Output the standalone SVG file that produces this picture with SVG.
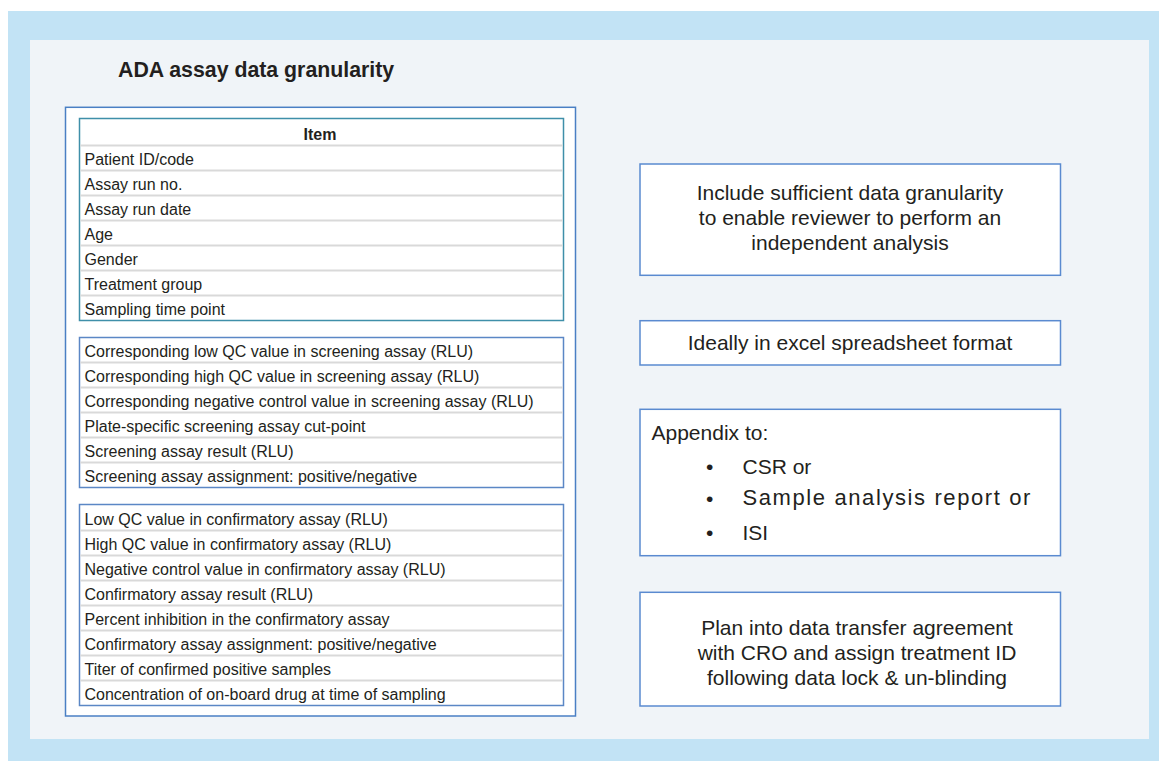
<svg xmlns="http://www.w3.org/2000/svg" width="1159" height="761" viewBox="0 0 1159 761">
<style>
text{font-family:"Liberation Sans",Arial,sans-serif;fill:#231f20}
.t{font-size:16px}
.b{font-size:21px}
.h{font-weight:bold}
.frame{fill:#fff;stroke:#4a7fc4;stroke-width:1.5}
.tbl{fill:#fff;stroke:#5b87c5;stroke-width:1.5}
.tbl1{fill:#fff;stroke:#3f8fa9;stroke-width:1.5}
.sep{stroke:#d9d9d9;stroke-width:2}
.box{fill:#fff;stroke:#5a8ad0;stroke-width:1.5}
</style>
<rect x="8" y="11" width="1151" height="750" fill="#c2e3f5"/>
<rect x="30" y="40" width="1119" height="699" fill="#f0f4f8"/>
<text x="118" y="76.5" class="h" style="font-size:21.3px">ADA assay data granularity</text>

<g id="data-table">
<rect class="frame" x="65.5" y="107.3" width="510" height="608.7"/>
<g id="table-1">
<rect class="tbl1" x="79.5" y="118.5" width="484" height="202"/>
<g class="sep">
<line x1="80.3" y1="145.5" x2="562.7" y2="145.5"/>
<line x1="80.3" y1="170.5" x2="562.7" y2="170.5"/>
<line x1="80.3" y1="195.5" x2="562.7" y2="195.5"/>
<line x1="80.3" y1="220.5" x2="562.7" y2="220.5"/>
<line x1="80.3" y1="245.5" x2="562.7" y2="245.5"/>
<line x1="80.3" y1="270.5" x2="562.7" y2="270.5"/>
<line x1="80.3" y1="295.5" x2="562.7" y2="295.5"/>
</g>
<text x="320" y="139.5" class="t h" text-anchor="middle">Item</text>
<text x="84.5" y="165" class="t">Patient ID/code</text>
<text x="84.5" y="190" class="t">Assay run no.</text>
<text x="84.5" y="215" class="t">Assay run date</text>
<text x="84.5" y="240" class="t">Age</text>
<text x="84.5" y="265" class="t">Gender</text>
<text x="84.5" y="290" class="t">Treatment group</text>
<text x="84.5" y="315" class="t">Sampling time point</text>
</g>
<g id="table-2">
<rect class="tbl" x="79.5" y="337.5" width="484" height="150"/>
<g class="sep">
<line x1="80.3" y1="362.5" x2="562.7" y2="362.5"/>
<line x1="80.3" y1="387.5" x2="562.7" y2="387.5"/>
<line x1="80.3" y1="412.5" x2="562.7" y2="412.5"/>
<line x1="80.3" y1="437.5" x2="562.7" y2="437.5"/>
<line x1="80.3" y1="462.5" x2="562.7" y2="462.5"/>
</g>
<text x="84.5" y="357" class="t">Corresponding low QC value in screening assay (RLU)</text>
<text x="84.5" y="382" class="t">Corresponding high QC value in screening assay (RLU)</text>
<text x="84.5" y="407" class="t">Corresponding negative control value in screening assay (RLU)</text>
<text x="84.5" y="432" class="t">Plate-specific screening assay cut-point</text>
<text x="84.5" y="457" class="t">Screening assay result (RLU)</text>
<text x="84.5" y="482" class="t">Screening assay assignment: positive/negative</text>
</g>
<g id="table-3">
<rect class="tbl" x="79.5" y="504.5" width="484" height="201"/>
<g class="sep">
<line x1="80.3" y1="530.5" x2="562.7" y2="530.5"/>
<line x1="80.3" y1="555.5" x2="562.7" y2="555.5"/>
<line x1="80.3" y1="580.5" x2="562.7" y2="580.5"/>
<line x1="80.3" y1="605.5" x2="562.7" y2="605.5"/>
<line x1="80.3" y1="630.5" x2="562.7" y2="630.5"/>
<line x1="80.3" y1="655.5" x2="562.7" y2="655.5"/>
<line x1="80.3" y1="680.5" x2="562.7" y2="680.5"/>
</g>
<text x="84.5" y="525" class="t">Low QC value in confirmatory assay (RLU)</text>
<text x="84.5" y="550" class="t">High QC value in confirmatory assay (RLU)</text>
<text x="84.5" y="575" class="t">Negative control value in confirmatory assay (RLU)</text>
<text x="84.5" y="600" class="t">Confirmatory assay result (RLU)</text>
<text x="84.5" y="625" class="t">Percent inhibition in the confirmatory assay</text>
<text x="84.5" y="650" class="t">Confirmatory assay assignment: positive/negative</text>
<text x="84.5" y="675" class="t">Titer of confirmed positive samples</text>
<text x="84.5" y="700" class="t">Concentration of on-board drug at time of sampling</text>
</g>
</g>

<g id="box-granularity">
<rect class="box" x="640" y="164" width="420.5" height="111.3"/>
<text class="b" x="850" y="200" text-anchor="middle">Include sufficient data granularity</text>
<text class="b" x="850" y="225" text-anchor="middle">to enable reviewer to perform an</text>
<text class="b" x="850" y="250" text-anchor="middle">independent analysis</text>
</g>
<g id="box-excel">
<rect class="box" x="640" y="320.7" width="420.5" height="44.3"/>
<text class="b" x="850" y="349.5" text-anchor="middle">Ideally in excel spreadsheet format</text>
</g>
<g id="box-appendix">
<rect class="box" x="640" y="409.3" width="420.5" height="146.4"/>
<text class="b" x="651.5" y="439.5">Appendix to:</text>
<text class="b" x="706" y="473.5">•</text>
<text class="b" x="742.5" y="473.5">CSR or</text>
<text class="b" x="706" y="506">•</text>
<text x="742.5" y="504.5" style="font-size:22px;letter-spacing:1.6px">Sample analysis report or</text>
<text class="b" x="706" y="539.5">•</text>
<text class="b" x="742.5" y="539.5">ISI</text>
</g>
<g id="box-plan">
<rect class="box" x="640" y="592.3" width="420.5" height="113.7"/>
<text class="b" x="857" y="635" text-anchor="middle">Plan into data transfer agreement</text>
<text class="b" x="857" y="660" text-anchor="middle">with CRO and assign treatment ID</text>
<text class="b" x="857" y="685" text-anchor="middle">following data lock &amp; un-blinding</text>
</g>
<g id="connectors"/>
</svg>
